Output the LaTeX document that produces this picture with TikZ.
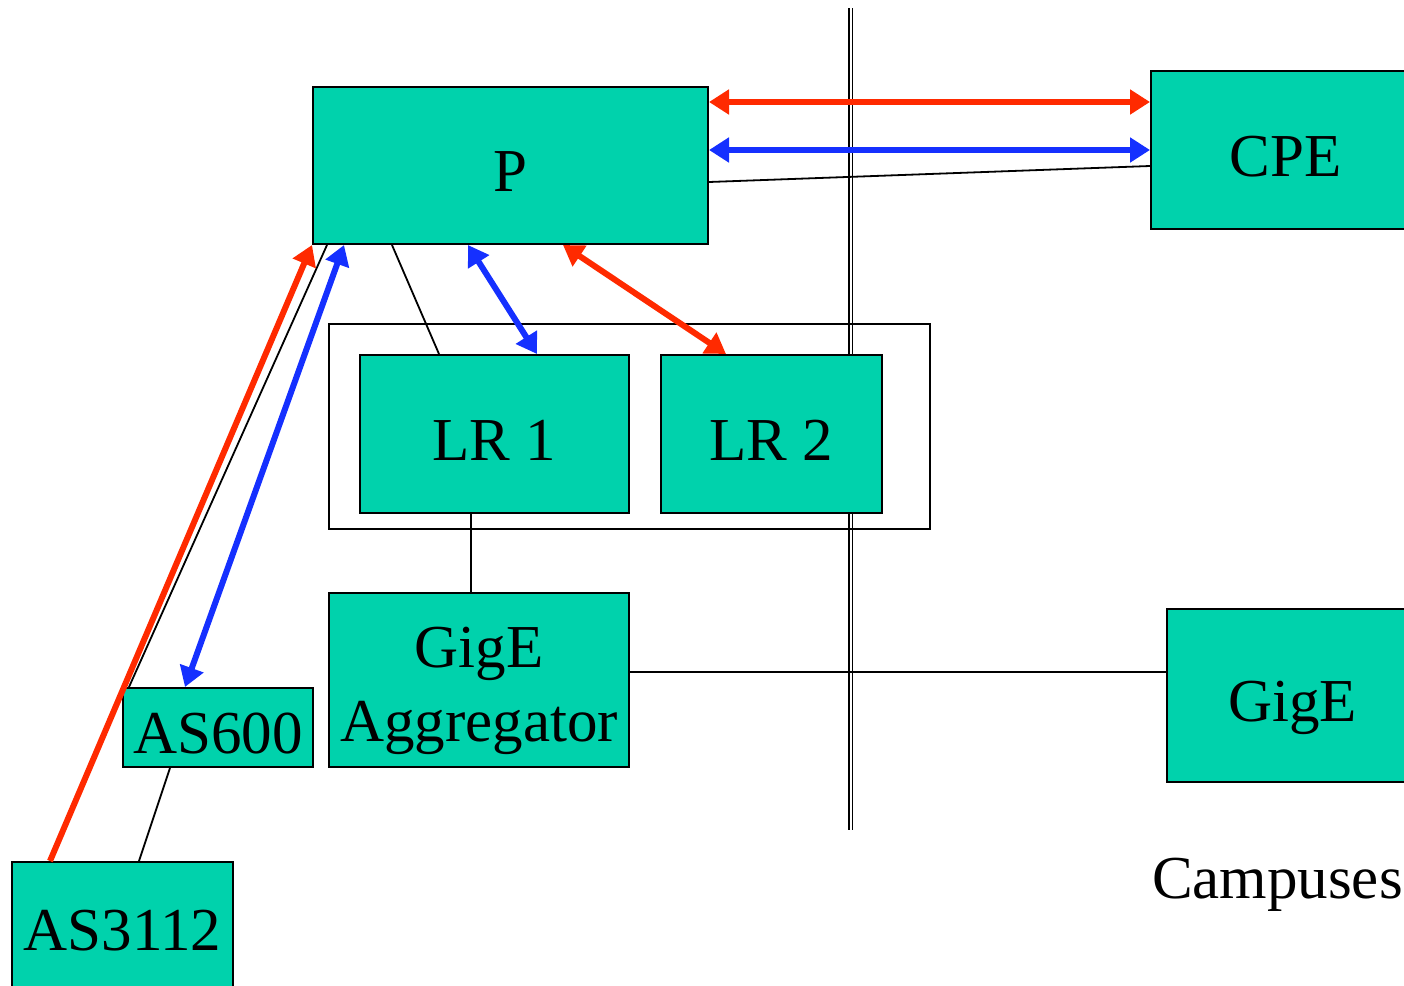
\documentclass[tikz,border=0pt]{standalone}
\usepackage{fontspec}
\setmainfont{Liberation Serif}
\usetikzlibrary{calc,arrows.meta}
\definecolor{boxgreen}{RGB}{0,210,172}
\definecolor{linkred}{RGB}{255,42,0}
\definecolor{linkblue}{RGB}{21,48,255}

\begin{document}
\begin{tikzpicture}[x=1pt, y=-1pt, line width=2pt,
  >={Triangle[length=20pt, width=24pt]},
  box/.style={draw, fill=boxgreen, inner sep=0pt, font=\fontsize{61}{74}\selectfont,
    text height=52pt, text depth=0pt},
  grp/.style={draw, inner sep=0pt},
  wire/.style={line width=1.8pt},
  sep/.style={double=white, double distance=2pt, line width=1.5pt},
  redlink/.style={linkred, line width=6pt},
  bluelink/.style={linkblue, line width=6pt}]
  % 图幅 1404 x 985
  \useasboundingbox (0,0) rectangle (1404,985);
  \clip (0,0) rectangle (1404,985);

  % 中间的双竖线
  \coordinate (T) at (850.5,8);
  \coordinate (Bt) at (850.5,830);
  \draw[sep] (T) -- (Bt);

  % LR 外框与各个盒子
  \node[grp, minimum width=601pt, minimum height=205pt] (LRs) at (629.5,426.5) {};
  \node[box, minimum width=395pt, minimum height=157pt] (P)    at (510.5,165.5) {P};
  \node[box, minimum width=269pt, minimum height=158pt] (CPE)  at (1285.5,150)  {CPE};
  \node[box, minimum width=269pt, minimum height=158pt] (LRa)  at (494.5,434)   {LR 1};
  \node[box, minimum width=221pt, minimum height=158pt] (LRb)  at (771.5,434)   {LR 2};
  \node[box, align=center, text height=122pt, minimum width=300pt, minimum height=174pt] (Agg) at (479,680) {GigE\\Aggregator};
  \node[box, minimum width=251pt, minimum height=173pt] (GigE) at (1292.5,695.5) {GigE};
  \node[box, minimum width=190pt, minimum height=79pt]  (ASa)  at (218,727.5)   {AS600};
  \node[box, text height=38pt, minimum width=221pt, minimum height=138pt] (ASb) at (122.5,931) {AS3112};
  \node[font=\fontsize{61}{74}\selectfont, anchor=base west, inner sep=0pt] (Cmp) at (1151,898) {Campuses};

  % 细线连接
  \draw[wire] ([yshift=-16.5pt]P.east) -- ([yshift=-16pt]CPE.west);
  \draw[wire] ([xshift=-118.5pt]P.south) -- ([xshift=-55.5pt]LRa.north);
  \draw[wire] ([xshift=-23.5pt]LRa.south) -- ([xshift=-23.5pt]LRa.south |- Agg.north);
  \draw[wire] ([yshift=8pt]Agg.east) -- ([yshift=8pt]Agg.east -| GigE.west);
  \draw[wire] ([xshift=15pt]P.south west) -- ([xshift=7pt]ASa.north west);
  \draw[wire] ([xshift=-48pt]ASa.south) -- ([xshift=16.5pt]ASb.north);

  % 红、蓝双向箭头
  \draw[redlink, <->] ([yshift=63.5pt]P.east) -- ([yshift=48pt]CPE.west);
  \draw[bluelink, <->] ([yshift=15.5pt]P.east) -- (CPE.west);
  \draw[bluelink, <->] ([xshift=-42.5pt]P.south) -- ([xshift=42.5pt]LRa.north);
  \draw[redlink, <->] ([xshift=52.5pt]P.south) -- ([xshift=-45.5pt]LRb.north);
  \draw[redlink, ->] ([xshift=-72.5pt]ASb.north) -- (P.south west);
  \draw[bluelink, <->] ([xshift=32pt]P.south west) -- ([xshift=-33pt]ASa.north);
\end{tikzpicture}
\end{document}
